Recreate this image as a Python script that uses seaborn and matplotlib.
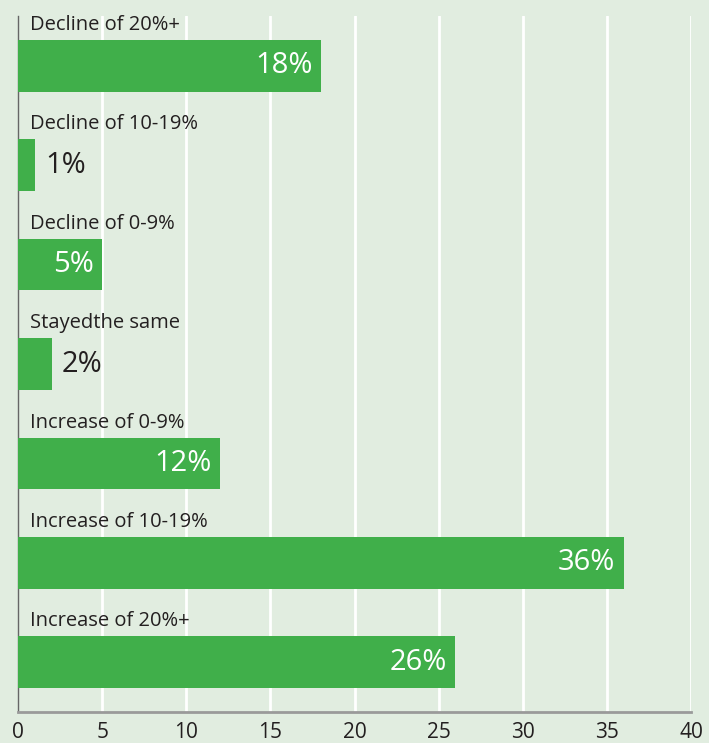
import matplotlib
matplotlib.use("Agg")
import matplotlib.pyplot as plt
import seaborn as sns
import pandas as pd

categories = ["Decline of 20%+", "Decline of 10-19%", "Decline of 0-9%",
              "Stayedthe same", "Increase of 0-9%", "Increase of 10-19%",
              "Increase of 20%+"]
values = [18, 1, 5, 2, 12, 36, 26]
value_labels = ["18%", "1%", "5%", "2%", "12%", "36%", "26%"]
xticks = [0, 5, 10, 15, 20, 25, 30, 35, 40]

BG = "#e1ede0"
BAR = "#40af4a"
TXT = "#231f20"

sns.set_theme(style="white")
plt.rcParams['font.family'] = ["Open Sans", "DejaVu Sans"]

df = pd.DataFrame({"category": categories, "value": values})

fig = plt.figure(figsize=(7.09, 7.43), dpi=100, facecolor=BG)
ax = fig.add_axes([18/709, 1-712/743, (691-18)/709, (712-16)/743])
ax.set_facecolor(BG)

sns.barplot(data=df, y="category", x="value", orient="h", color=BAR,
            saturation=1, width=0.52, ax=ax, zorder=3, linewidth=0,
            edgecolor="none")

ax.set_xlim(0, 40)
ax.set_ylim(6.5, -0.5)
ax.set_xticks(xticks)
ax.set_xticklabels([str(t) for t in xticks], fontsize=15, color=TXT)
ax.tick_params(axis="x", length=0, pad=7)
ax.set_yticks([])
ax.set_xlabel("")
ax.set_ylabel("")
for t in xticks[1:]:
    ax.axvline(t, color="white", lw=2, zorder=1)

for s in ["top", "right"]:
    ax.spines[s].set_visible(False)
ax.spines["left"].set_color("#666666")
ax.spines["left"].set_linewidth(1)
ax.spines["left"].set_zorder(2)
ax.spines["bottom"].set_color("#9a9a9a")
ax.spines["bottom"].set_linewidth(2)

for i, (cat, v, lab) in enumerate(zip(categories, values, value_labels)):
    ax.text(0.7, i - 0.36, cat, ha="left", va="baseline", fontsize=14.5,
            color=TXT, zorder=4)
    if v >= 5:
        ax.text(v - 0.5, i, lab, ha="right", va="center", fontsize=21,
                color="white", zorder=4)
    else:
        ax.text(v + 0.6, i, lab, ha="left", va="center", fontsize=21,
                color=TXT, zorder=4)

fig.savefig("out.png", dpi=100, facecolor=BG)
